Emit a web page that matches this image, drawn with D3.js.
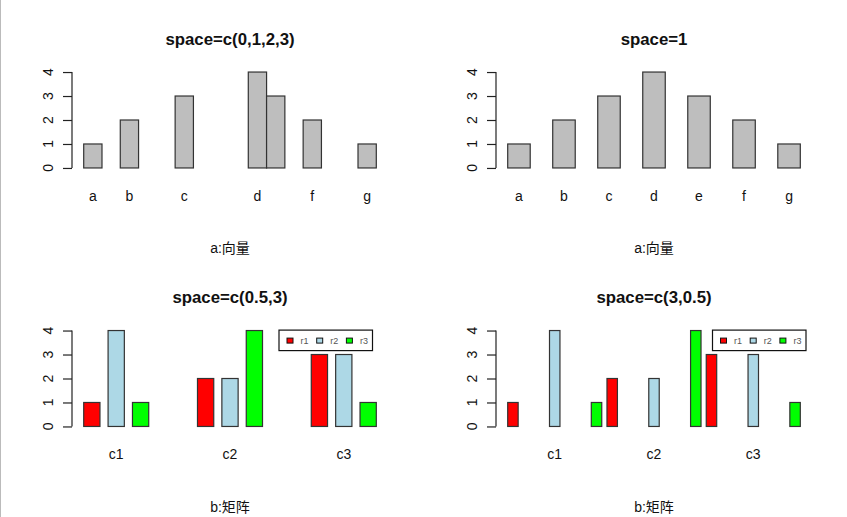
<!DOCTYPE html>
<html>
<head>
<meta charset="utf-8">
<script src="https://cdn.jsdelivr.net/npm/d3@7"></script>
<style>
  body { margin: 0; background: #fff; }
  svg { display: block; }
  text { font-family: "Liberation Sans", Arial, "Noto Sans CJK SC", sans-serif; fill: #111; }
</style>
</head>
<body>
<div id="chart"></div>
<script>
// vector data (panels a)
const vecNames = ["a", "b", "c", "d", "e", "f", "g"];
const vecValues = [1, 2, 3, 4, 3, 2, 1];

// matrix data (panels b), one array per row
const matCols = ["c1", "c2", "c3"];
const matRows = ["r1", "r2", "r3"];
const rowR1 = [1, 2, 3];
const rowR2 = [4, 2, 3];
const rowR3 = [1, 4, 1];
const rowColors = ["#FF0000", "#ADD8E6", "#00FF00"];

const yTicks = [0, 1, 2, 3, 4];

const panels = [
  {title: "space=c(0,1,2,3)", xlab: "a:向量", space: [0, 1, 2, 3], beside: false, col: 0, row: 0},
  {title: "space=1", xlab: "a:向量", space: [1], beside: false, col: 1, row: 0},
  {title: "space=c(0.5,3)", xlab: "b:矩阵", space: [0.5, 3], beside: true, col: 0, row: 1, legendInset: 15.5},
  {title: "space=c(3,0.5)", xlab: "b:矩阵", space: [3, 0.5], beside: true, col: 1, row: 1, legendInset: 6}
];

const W = 847, H = 517;
const panelW = 424, panelH = 258.5;
const plot = {left: 72, width: 316, top: 68.2, height: 103.6};

const svg = d3.select("#chart").append("svg")
    .attr("width", W)
    .attr("height", H);

// thin grey border on the left edge of the picture
svg.append("line")
    .attr("x1", 0.5).attr("x2", 0.5).attr("y1", 0).attr("y2", H)
    .style("stroke", "#bbb");

const matrix = [rowR1, rowR2, rowR3];

panels.forEach(p => drawPanel(p));

function drawPanel(p) {
    let g = svg.append("g")
        .attr("transform", `translate(${p.col * panelW},${p.row * panelH})`);

    // build bars the way barplot() lays them out
    let bars = [];
    let groups = [];
    let pos = 0;
    if (!p.beside) {
        vecValues.forEach((v, i) => {
            pos += p.space[i % p.space.length];
            bars.push({l: pos, r: pos + 1, v: v, fill: "#BEBEBE", name: vecNames[i]});
            pos += 1;
        });
    } else {
        // space = c(within, between)
        matCols.forEach((c, j) => {
            let start = null;
            matRows.forEach((r, i) => {
                pos += (i === 0 ? p.space[1] : p.space[0]);
                if (start === null) start = pos;
                bars.push({l: pos, r: pos + 1, v: matrix[i][j], fill: rowColors[i]});
                pos += 1;
            });
            groups.push({name: c, mid: (start + pos) / 2});
        });
    }

    let xmin = d3.min(bars, d => d.l), xmax = d3.max(bars, d => d.r);
    let ext = (xmax - xmin) * 0.04;
    let x = d3.scaleLinear()
        .domain([xmin - ext, xmax + ext])
        .range([plot.left, plot.left + plot.width]);

    let ymax = d3.max(yTicks);
    let y = d3.scaleLinear()
        .domain([-0.04 * ymax, ymax * 1.04])
        .range([plot.top + plot.height, plot.top]);

    // bars
    g.selectAll("rect.bar")
        .data(bars)
        .enter()
        .append("rect")
        .attr("class", "bar")
        .attr("x", d => x(d.l))
        .attr("width", d => x(d.r) - x(d.l))
        .attr("y", d => y(d.v))
        .attr("height", d => y(0) - y(d.v))
        .style("fill", d => d.fill)
        .style("stroke", "#333")
        .style("stroke-width", 1.2);

    // y axis, R style: rotated labels
    let yAxis = d3.axisLeft(y)
        .tickValues(yTicks)
        .tickSize(9)
        .tickPadding(0)
        .tickFormat("");
    let ax = g.append("g")
        .attr("transform", `translate(${plot.left},0)`)
        .call(yAxis);
    ax.select(".domain").attr("d", `M0,${y(0)}V${y(ymax)}`).style("stroke", "#222").style("stroke-width", 1.2);
    ax.selectAll(".tick line").style("stroke", "#222").style("stroke-width", 1.2);

    g.selectAll("text.ytick")
        .data(yTicks)
        .enter()
        .append("text")
        .attr("class", "ytick")
        .attr("transform", d => `translate(${plot.left - 19},${y(d)}) rotate(-90)`)
        .attr("text-anchor", "middle")
        .style("font-size", "14px")
        .text(d => d);

    // category labels, skipping overlapping ones like axis() does
    let labels = p.beside
        ? groups.map(d => ({name: d.name, at: d.mid}))
        : bars.map(d => ({name: d.name, at: (d.l + d.r) / 2}));
    let labelY = plot.top + plot.height + 29;
    let lastRight = -Infinity;
    labels.forEach(d => {
        let t = g.append("text")
            .attr("x", x(d.at))
            .attr("y", labelY)
            .attr("text-anchor", "middle")
            .style("font-size", "14px")
            .text(d.name);
        let bb = t.node().getBBox();
        if (bb.x < lastRight + 11.5) {
            t.remove();
        } else {
            lastRight = bb.x + bb.width;
        }
    });

    // title and x label
    g.append("text")
        .attr("x", plot.left + plot.width / 2)
        .attr("y", 44.5)
        .attr("text-anchor", "middle")
        .style("font-size", "16.8px")
        .style("font-weight", "bold")
        .text(p.title);

    g.append("text")
        .attr("x", plot.left + plot.width / 2)
        .attr("y", 253)
        .attr("text-anchor", "middle")
        .style("font-size", "14px")
        .text(p.xlab);

    // legend for matrix panels
    if (p.beside) {
        let lw = 93.5, lh = 20.5;
        let lx = plot.left + plot.width - p.legendInset - lw;
        let ly = plot.top + 3.4;
        let leg = g.append("g").attr("transform", `translate(${lx},${ly})`);
        leg.append("rect")
            .attr("width", lw).attr("height", lh)
            .style("fill", "white").style("stroke", "#111").style("stroke-width", 1.2);
        let items = leg.selectAll("g.item")
            .data(matRows)
            .enter()
            .append("g")
            .attr("class", "item")
            .attr("transform", (d, i) => `translate(${8 + i * 29.7},0)`);
        items.append("rect")
            .attr("y", 8).attr("width", 6).attr("height", 5)
            .style("fill", (d, i) => rowColors[i])
            .style("stroke", "#111").style("stroke-width", 1);
        items.append("text")
            .attr("x", 13.5).attr("y", 13.6)
            .style("font-size", "9px")
            .style("fill", "#555")
            .text(d => d);
    }
}
</script>
</body>
</html>
